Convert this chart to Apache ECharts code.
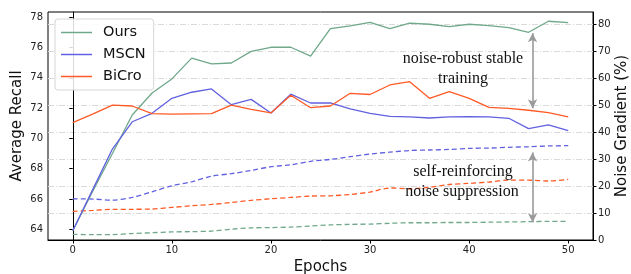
<!DOCTYPE html>
<html>
<head>
<meta charset="utf-8">
<script src="https://cdn.jsdelivr.net/npm/echarts@6/dist/echarts.min.js"></script>
<style>
  html, body { margin: 0; padding: 0; background: #fff; }
  #chart { width: 631px; height: 274px; }
</style>
</head>
<body>
<div id="chart"></div>
<script>
const epochs = [0, 2, 4, 6, 8, 10, 12, 14, 16, 18, 20, 22, 24, 26, 28, 30, 32, 34, 36, 38, 40, 42, 44, 46, 48, 50];

// Average Recall (left axis, solid)
const oursRecall = [63.9, 66.5, 69.0, 71.55, 73.0, 73.93, 75.3, 74.92, 74.98, 75.75, 76.02, 76.02, 75.43, 77.25, 77.43, 77.67, 77.25, 77.62, 77.54, 77.38, 77.54, 77.45, 77.32, 77.01, 77.74, 77.65];
const mscnRecall = [63.9, 66.6, 69.3, 71.1, 71.66, 72.65, 73.05, 73.27, 72.23, 72.58, 71.68, 72.92, 72.34, 72.34, 71.95, 71.66, 71.46, 71.42, 71.35, 71.42, 71.44, 71.42, 71.33, 70.65, 70.89, 70.51];
const bicroRecall = [71.04, 71.6, 72.2, 72.14, 71.64, 71.6, 71.62, 71.64, 72.2, 71.92, 71.68, 72.85, 72.03, 72.14, 72.98, 72.9, 73.53, 73.75, 72.65, 73.09, 72.65, 72.05, 71.99, 71.86, 71.7, 71.42];

// Noise Gradient % (right axis, dashed)
const oursNoise = [2.1, 2.0, 2.0, 2.4, 2.7, 3.0, 3.1, 3.3, 4.0, 4.5, 4.6, 4.8, 5.2, 5.6, 5.8, 5.9, 6.2, 6.4, 6.4, 6.5, 6.5, 6.6, 6.7, 6.8, 6.9, 6.9];
const mscnNoise = [15.3, 15.2, 14.8, 15.8, 17.9, 20.1, 21.6, 23.7, 24.6, 25.8, 27.2, 27.9, 29.2, 29.9, 30.9, 31.9, 32.6, 33.2, 33.4, 33.6, 34.0, 34.1, 34.4, 34.6, 34.9, 35.0];
const bicroNoise = [10.6, 11.0, 11.4, 11.4, 11.5, 12.1, 12.7, 13.2, 13.9, 14.7, 15.3, 15.8, 16.3, 16.4, 16.9, 17.8, 19.3, 19.0, 19.6, 20.6, 21.0, 21.5, 22.2, 22.2, 21.9, 22.5];

const xTicks = [0, 10, 20, 30, 40, 50];
const recallTicks = [64, 66, 68, 70, 72, 74, 76, 78];
const noiseTicks = [0, 10, 20, 30, 40, 50, 60, 70, 80];

const GREEN = '#6fa88a';
const BLUE = '#6161e0';
const RED = '#ff5a26';

function pairs(ys) {
  return epochs.map((x, i) => [x, ys[i]]);
}

function solid(name, color, ys) {
  return {
    name: name,
    type: 'line',
    yAxisIndex: 0,
    data: pairs(ys),
    symbol: 'none',
    lineStyle: { color: color, width: 1.3 },
    itemStyle: { color: color },
    z: 3
  };
}

function dashed(name, color, ys) {
  return {
    name: name,
    type: 'line',
    yAxisIndex: 1,
    data: pairs(ys),
    symbol: 'none',
    smooth: 0.3,
    lineStyle: { color: color, width: 1.3, type: [5, 3] },
    itemStyle: { color: color },
    z: 2
  };
}

const arrowStyle = {
  silent: true,
  symbol: ['arrow', 'arrow'],
  symbolSize: [7, 9],
  label: { show: false },
  lineStyle: { color: '#9a9a9a', type: 'solid', width: 1.6 }
};

let series = [
  solid('Ours', GREEN, oursRecall),
  solid('MSCN', BLUE, mscnRecall),
  solid('BiCro', RED, bicroRecall),
  dashed('Ours noise', GREEN, oursNoise),
  dashed('MSCN noise', BLUE, mscnNoise),
  dashed('BiCro noise', RED, bicroNoise)
];
series[0].markLine = Object.assign({}, arrowStyle, {
  data: [[{ coord: [46.4, 76.95] }, { coord: [46.4, 71.99] }]]
});
series[3].markLine = Object.assign({}, arrowStyle, {
  data: [[{ coord: [46.4, 32.5] }, { coord: [46.4, 6.6] }]]
});

const tickLabel = { color: '#222', fontSize: 10, fontFamily: 'DejaVu Sans' };
const nameText = { color: '#111', fontSize: 15, fontFamily: 'DejaVu Sans' };
const serif = '16px "Liberation Serif", "Times New Roman", serif';

let chart = echarts.init(document.getElementById('chart'), null, { renderer: 'canvas' });
chart.setOption({
  animation: false,
  backgroundColor: '#fff',
  grid: {
    left: 48, right: 38, top: 12, bottom: 34,
    outerBoundsMode: 'none',
    containLabel: false,
    show: true, borderColor: '#000', borderWidth: 1, backgroundColor: 'transparent'
  },
  legend: {
    data: ['Ours', 'MSCN', 'BiCro'],
    orient: 'vertical',
    left: 55,
    top: 19,
    icon: 'rect',
    itemWidth: 31,
    itemHeight: 1.5,
    itemGap: 5,
    padding: [5, 8, 5, 6],
    borderColor: '#d6d6d6',
    borderWidth: 1,
    borderRadius: 3,
    backgroundColor: 'rgba(255,255,255,0.85)',
    textStyle: { color: '#111', fontSize: 14.5, fontFamily: 'DejaVu Sans', padding: [0, 0, 0, 6], lineHeight: 17 }
  },
  xAxis: {
    type: 'value',
    min: -2.5,
    max: 52.5,
    name: 'Epochs',
    nameLocation: 'middle',
    nameGap: 18,
    nameTextStyle: nameText,
    axisLine: { lineStyle: { color: '#000', width: 1 } },
    axisTick: { show: true, length: 3.5, lineStyle: { color: '#000' }, customValues: xTicks },
    axisLabel: Object.assign({ margin: 5, customValues: xTicks }, tickLabel),
    splitLine: { show: false }
  },
  yAxis: [
    {
      type: 'value',
      position: 'left',
      min: 63.29,
      max: 78.35,
      name: 'Average Recall',
      nameLocation: 'middle',
      nameGap: 23,
      nameMoveOverlap: false,
      nameTextStyle: nameText,
      axisLine: { show: true, lineStyle: { color: '#000', width: 1 } },
      axisTick: { show: true, length: 3.5, lineStyle: { color: '#000' }, customValues: recallTicks },
      axisLabel: Object.assign({ margin: 5, customValues: recallTicks }, tickLabel),
      splitLine: { show: false }
    },
    {
      type: 'value',
      position: 'right',
      min: 0,
      max: 84.6,
      name: 'Noise Gradient (%)',
      nameLocation: 'middle',
      nameGap: 22,
      nameMoveOverlap: false,
      nameTextStyle: nameText,
      axisLine: { show: true, lineStyle: { color: '#000', width: 1 } },
      axisTick: { show: true, length: 3.5, lineStyle: { color: '#000' }, customValues: noiseTicks },
      axisLabel: Object.assign({ margin: 5, customValues: noiseTicks }, tickLabel),
      splitLine: { show: true, lineStyle: { color: '#dadada', width: 1, type: [6, 2, 1, 2] } }
    }
  ],
  graphic: [
    { type: 'text', x: 463, y: 58.5, z: 10, style: { text: 'noise-robust stable', font: serif, fill: '#111', align: 'center', verticalAlign: 'middle' } },
    { type: 'text', x: 463, y: 78.5, z: 10, style: { text: 'training', font: serif, fill: '#111', align: 'center', verticalAlign: 'middle' } },
    { type: 'text', x: 463, y: 172, z: 10, style: { text: 'self-reinforcing', font: serif, fill: '#111', align: 'center', verticalAlign: 'middle' } },
    { type: 'text', x: 462, y: 192, z: 10, style: { text: 'noise suppression', font: serif, fill: '#111', align: 'center', verticalAlign: 'middle' } }
  ],
  series: series
});
</script>
</body>
</html>
